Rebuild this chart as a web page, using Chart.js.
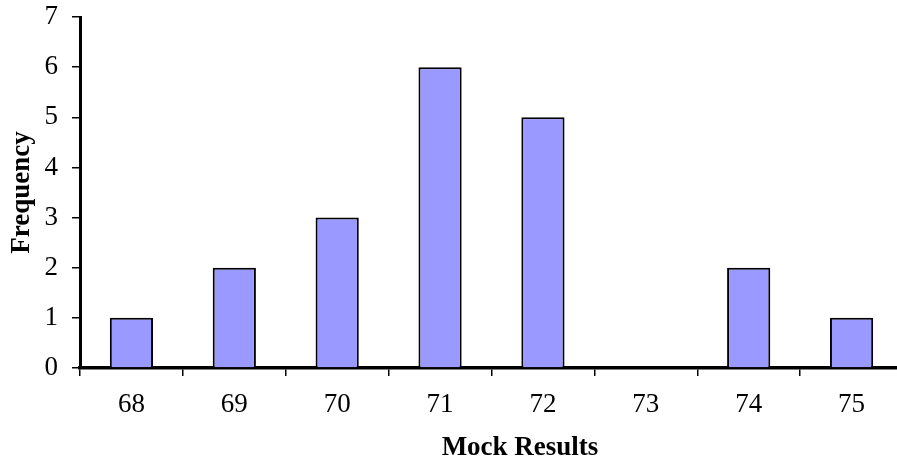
<!DOCTYPE html>
<html>
<head>
<meta charset="utf-8">
<script src="https://cdn.jsdelivr.net/npm/chart.js@4"></script>
<style>
  html, body { margin: 0; padding: 0; background: #fff; overflow: hidden; }
  #wrap { width: 905px; height: 461px; position: relative; }
</style>
</head>
<body>
<div id="wrap"><canvas id="chart"></canvas></div>
<script>
const categories = ['68', '69', '70', '71', '72', '73', '74', '75'];
const frequency = [1, 2, 3, 6, 5, 0, 2, 1];
const yTicks = [0, 1, 2, 3, 4, 5, 6, 7];

const serif = '"Liberation Serif", "Times New Roman", serif';

// x title sits a bit right of the plot centre in the original
const xTitlePlugin = {
    id: 'xTitle',
    afterDraw(chart) {
        const ctx = chart.ctx;
        ctx.save();
        ctx.font = 'bold 27px ' + serif;
        ctx.fillStyle = '#000';
        ctx.textAlign = 'center';
        ctx.textBaseline = 'middle';
        ctx.fillText('Mock Results', 520, 448);
        ctx.restore();
    }
};

new Chart(document.getElementById('chart'), {
    type: 'bar',
    data: {
        labels: categories,
        datasets: [{
            label: 'Frequency',
            data: frequency,
            backgroundColor: '#9999FF',
            borderColor: '#000',
            borderWidth: 2,
            categoryPercentage: 1,
            barPercentage: 0.42
        }]
    },
    options: {
        responsive: true,
        maintainAspectRatio: false,
        animation: false,
        layout: { padding: { top: 17, right: 2, left: 0, bottom: 0 } },
        plugins: {
            legend: { display: false },
            tooltip: { enabled: false }
        },
        scales: {
            x: {
                afterFit: s => {
                    s.height = 93;
                    s.paddingLeft = 0;
                    s.paddingRight = 0;
                },
                grid: {
                    drawOnChartArea: false,
                    drawTicks: true,
                    tickLength: 8,
                    lineWidth: 1.5,
                    color: '#000',
                    offset: true
                },
                border: { display: true, color: '#000', width: 3.5 },
                ticks: {
                    color: '#000',
                    padding: 13,
                    font: { family: serif, size: 27 }
                }
            },
            y: {
                min: 0,
                max: 7,
                afterFit: s => {
                    s.width = 80;
                    s.paddingTop = 0;
                    s.paddingBottom = 0;
                },
                afterBuildTicks: s => { s.ticks = yTicks.map(v => ({ value: v })); },
                grid: {
                    drawOnChartArea: false,
                    drawTicks: true,
                    tickLength: 8,
                    lineWidth: 1.5,
                    color: '#000'
                },
                border: { display: true, color: '#000', width: 3 },
                ticks: {
                    color: '#000',
                    padding: 14,
                    font: { family: serif, size: 27 }
                },
                title: {
                    display: true,
                    text: 'Frequency',
                    color: '#000',
                    padding: { top: 6, bottom: 0 },
                    font: { family: serif, size: 27, weight: 'bold' }
                }
            }
        }
    },
    plugins: [xTitlePlugin]
});
</script>
</body>
</html>
